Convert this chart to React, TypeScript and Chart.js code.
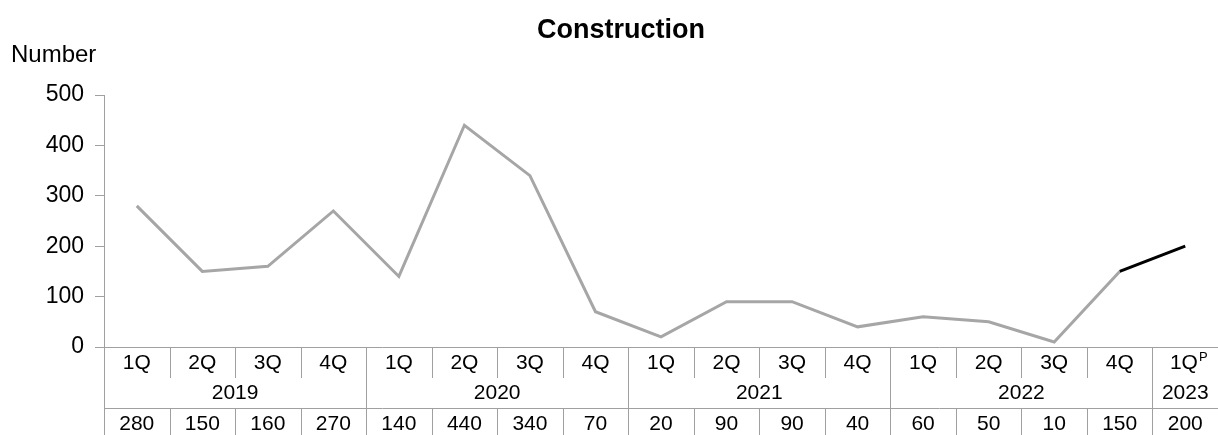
import React, { useEffect, useRef } from "react";
import { Chart, registerables } from "chart.js";

Chart.register(...registerables);

const quarterLabels = ["1Q", "2Q", "3Q", "4Q", "1Q", "2Q", "3Q", "4Q", "1Q", "2Q", "3Q", "4Q", "1Q", "2Q", "3Q", "4Q", "1Q"];
const yearLabels = ["2019", "2020", "2021", "2022", "2023"];
const yearSpans = [4, 4, 4, 4, 1];
const values = [280, 150, 160, 270, 140, 440, 340, 70, 20, 90, 90, 40, 60, 50, 10, 150, 200];
const provisionalIndex = 16; // last quarter is provisional (superscript P)
const yTicks = [0, 100, 200, 300, 400, 500];

const FONT = "'Liberation Sans', Arial, sans-serif";
const AXIS_GRAY = "#A0A0A0";
const LINE_GRAY = "#A6A6A6";

const tablePlugin = {
  id: "tablePlugin",
  afterDraw(chart: any) {
    const ctx = chart.ctx as CanvasRenderingContext2D;
    const area = chart.chartArea;
    const n = quarterLabels.length;
    const colW = (area.right - area.left) / n;
    const y0 = area.bottom;
    const qBottom = y0 + 31;
    const valTop = y0 + 61;
    const bottom = chart.height;
    ctx.save();
    ctx.strokeStyle = AXIS_GRAY;
    ctx.lineWidth = 1;
    ctx.beginPath();
    ctx.moveTo(area.left, y0 + 0.5);
    ctx.lineTo(chart.width, y0 + 0.5);
    ctx.moveTo(area.left, valTop + 0.5);
    ctx.lineTo(chart.width, valTop + 0.5);
    ctx.stroke();
    const yearStarts: number[] = [];
    let acc = 0;
    yearSpans.forEach((s) => {
      yearStarts.push(acc);
      acc += s;
    });
    ctx.beginPath();
    for (let i = 0; i <= n; i++) {
      const x = Math.round(area.left + i * colW) + 0.5;
      const isYear = yearStarts.includes(i) || i === n;
      if (isYear) {
        ctx.moveTo(x, y0);
        ctx.lineTo(x, bottom);
      } else {
        ctx.moveTo(x, y0);
        ctx.lineTo(x, qBottom);
        ctx.moveTo(x, valTop);
        ctx.lineTo(x, bottom);
      }
    }
    ctx.stroke();

    ctx.fillStyle = "#000";
    ctx.textBaseline = "middle";
    ctx.font = `21px ${FONT}`;
    quarterLabels.forEach((q, i) => {
      const cx = area.left + (i + 0.5) * colW;
      if (i === provisionalIndex) {
        ctx.font = `21px ${FONT}`;
        const w1 = ctx.measureText(q).width;
        ctx.font = `13px ${FONT}`;
        const w2 = ctx.measureText("P").width;
        const start = cx - (w1 + w2) / 2 + 3;
        ctx.textAlign = "left";
        ctx.font = `21px ${FONT}`;
        ctx.fillText(q, start, y0 + 16);
        ctx.font = `13px ${FONT}`;
        ctx.fillText("P", start + w1 + 1, y0 + 10);
        ctx.font = `21px ${FONT}`;
      } else {
        ctx.textAlign = "center";
        ctx.fillText(q, cx, y0 + 16);
      }
    });
    ctx.textAlign = "center";
    yearLabels.forEach((yl, k) => {
      const s = yearStarts[k];
      const cx = area.left + (s + yearSpans[k] / 2) * colW;
      ctx.fillText(yl, cx, y0 + 46);
    });
    values.forEach((v, i) => {
      const cx = area.left + (i + 0.5) * colW;
      ctx.fillText(String(v), cx, y0 + 77);
    });

    ctx.font = `bold 27px ${FONT}`;
    ctx.textAlign = "center";
    ctx.fillText("Construction", 621, 31);
    ctx.font = `24px ${FONT}`;
    ctx.textAlign = "left";
    ctx.fillText("Number", 11, 55);
    ctx.restore();
  },
};

export default function App() {
  const ref = useRef<HTMLCanvasElement>(null);
  useEffect(() => {
    document.body.style.margin = "0";
    if (!ref.current) return;
    const chart = new Chart(ref.current, {
      type: "line",
      data: {
        labels: quarterLabels.map((q, i) => `${q}-${i}`),
        datasets: [
          {
            data: values,
            borderColor: LINE_GRAY,
            borderWidth: 3,
            pointRadius: 0,
            borderJoinStyle: "miter",
            tension: 0,
            segment: {
              borderColor: (c: any) => (c.p1DataIndex === provisionalIndex ? "#000000" : LINE_GRAY),
            },
          },
        ],
      },
      options: {
        responsive: false,
        animation: false,
        layout: { padding: { top: 95, bottom: 88, left: 0, right: 0 } },
        plugins: {
          legend: { display: false },
          title: { display: false },
          tooltip: { enabled: false },
        },
        scales: {
          x: {
            type: "category",
            display: false,
            offset: true,
          },
          y: {
            min: yTicks[0],
            max: yTicks[yTicks.length - 1],
            afterFit: (s: any) => {
              s.width = 104;
            },
            afterBuildTicks: (s: any) => {
              s.ticks = yTicks.map((v) => ({ value: v }));
            },
            ticks: {
              color: "#000",
              font: { family: FONT, size: 23 },
              padding: 11,
            },
            grid: {
              drawOnChartArea: false,
              drawTicks: true,
              tickLength: 9,
              color: AXIS_GRAY,
            },
            border: { color: AXIS_GRAY, width: 1 },
          },
        },
      },
      plugins: [tablePlugin],
    });
    return () => chart.destroy();
  }, []);
  return (
    <div style={{ width: 1218, height: 435 }}>
      <canvas ref={ref} width={1218} height={435} />
    </div>
  );
}
